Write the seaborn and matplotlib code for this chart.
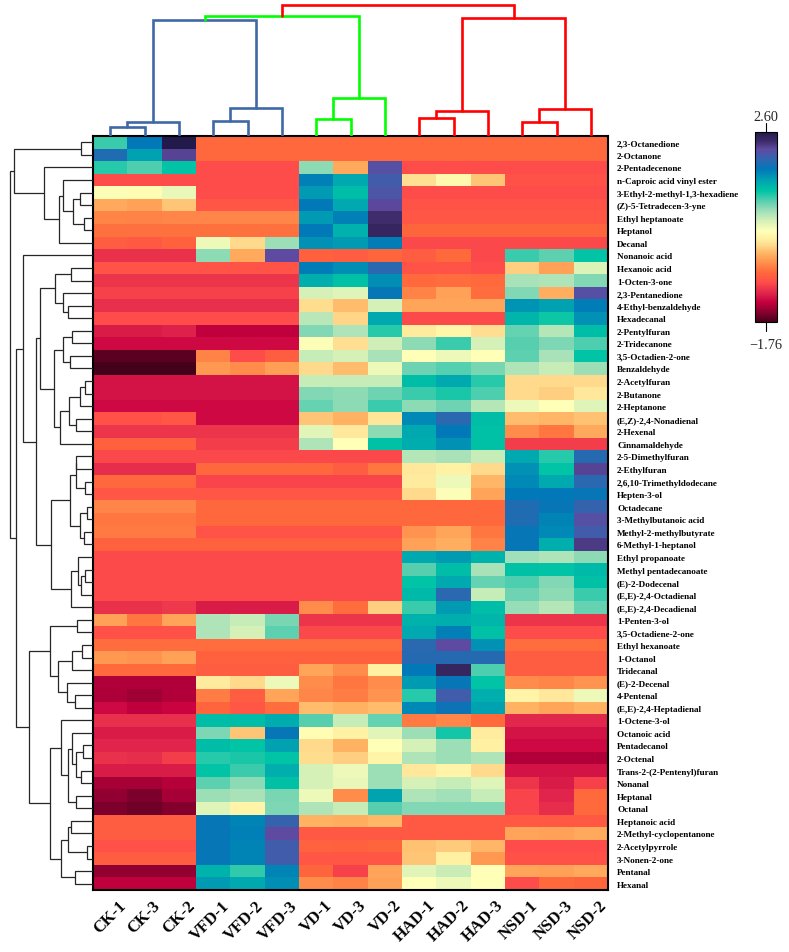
import numpy as np
import pandas as pd
import matplotlib
matplotlib.use('Agg')
import matplotlib.pyplot as plt
from matplotlib.colors import LinearSegmentedColormap
from matplotlib.transforms import ScaledTranslation
import seaborn as sns

cols = ['CK-1', 'CK-3', 'CK-2', 'VFD-1', 'VFD-2', 'VFD-3', 'VD-1', 'VD-3', 'VD-2',
        'HAD-1', 'HAD-2', 'HAD-3', 'NSD-1', 'NSD-3', 'NSD-2']

rows = ['2,3-Octanedione', '2-Octanone', '2-Pentadecenone', 'n-Caproic acid vinyl ester',
        '3-Ethyl-2-methyl-1,3-hexadiene', '(Z)-5-Tetradecen-3-yne', 'Ethyl heptanoate', 'Heptanol',
        'Decanal', 'Nonanoic acid', 'Hexanoic acid', '1-Octen-3-one', '2,3-Pentanedione',
        '4-Ethyl-benzaldehyde', 'Hexadecanal', '2-Pentylfuran', '2-Tridecanone', '3,5-Octadien-2-one',
        'Benzaldehyde', '2-Acetylfuran', '2-Butanone', '2-Heptanone', '(E,Z)-2,4-Nonadienal',
        '2-Hexenal', 'Cinnamaldehyde', '2-5-Dimethylfuran', '2-Ethylfuran', '2,6,10-Trimethyldodecane',
        'Hepten-3-ol', 'Octadecane', '3-Methylbutanoic acid', 'Methyl-2-methylbutyrate',
        '6-Methyl-1-heptanol', 'Ethyl propanoate', 'Methyl pentadecanoate', '(E)-2-Dodecenal',
        '(E,E)-2,4-Octadienal', '(E,E)-2,4-Decadienal', '1-Penten-3-ol', '3,5-Octadiene-2-one',
        'Ethyl hexanoate', '1-Octanol', 'Tridecanal', '(E)-2-Decenal', '4-Pentenal',
        '(E,E)-2,4-Heptadienal', '1-Octene-3-ol', 'Octanoic acid', 'Pentadecanol', '2-Octenal',
        'Trans-2-(2-Pentenyl)furan', 'Nonanal', 'Heptanal', 'Octanal', 'Heptanoic acid',
        '2-Methyl-cyclopentanone', '2-Acetylpyrrole', '3-Nonen-2-one', 'Pentanal', 'Hexanal']

values = [
    [1.1, 1.75, 2.6, -.63, -.63, -.63, -.63, -.63, -.63, -.63, -.63, -.63, -.63, -.63, -.63],
    [1.9, 1.5, 2.25, -.63, -.63, -.63, -.63, -.63, -.63, -.63, -.63, -.63, -.63, -.63, -.63],
    [1.15, 1.05, 1.25, -.85, -.85, -.85, .85, -.25, 2.15, -.85, -.85, -.85, -.85, -.85, -.85],
    [-.85, -.85, -.85, -.85, -.85, -.85, 1.7, 1.45, 2.05, .05, .25, -.1, -.82, -.82, -.82],
    [.35, .3, .45, -.85, -.85, -.85, 1.55, 1.3, 2.1, -.85, -.85, -.85, -.85, -.85, -.85],
    [-.25, -.3, -.1, -.78, -.78, -.78, 1.75, 1.45, 2.22, -.8, -.8, -.8, -.8, -.8, -.8],
    [-.46, -.48, -.45, -.45, -.45, -.45, 1.55, 1.7, 2.38, -.78, -.78, -.78, -.78, -.78, -.78],
    [-.58, -.58, -.58, -.58, -.58, -.58, 1.75, 1.38, 2.45, -.65, -.65, -.65, -.65, -.65, -.65],
    [-.72, -.75, -.68, .42, 0, .8, 1.6, 1.55, 1.72, -.88, -.88, -.88, -.88, -.88, -.88],
    [-1.02, -1.02, -1.02, .85, -.25, 2.2, -.68, -.72, -.65, -.72, -.62, -.88, 1.1, 1.0, 1.25],
    [-.8, -.8, -.8, -.8, -.8, -.8, 1.72, 1.62, 1.95, -.8, -.8, -.85, -.05, -.3, .52],
    [-1.0, -1.0, -1.0, -1.0, -1.0, -1.0, 1.4, 1.28, 1.62, -.62, -.6, -.62, .75, .72, .88],
    [-.92, -.92, -.92, -.92, -.92, -.92, .55, .5, 1.78, -.48, -.3, -.6, .88, -.22, 2.15],
    [-1.03, -1.03, -1.03, -1.03, -1.03, -1.03, .02, -.15, .55, -.27, -.27, -.27, 1.58, 1.5, 1.72],
    [-.85, -.85, -.85, -.85, -.85, -.85, .68, -.02, 1.45, -.87, -.87, -.87, 1.35, 1.22, 1.6],
    [-1.15, -1.15, -1.12, -1.33, -1.33, -1.33, .88, .72, 1.15, .12, .22, .03, .98, .7, 1.3],
    [-1.25, -1.25, -1.25, -1.25, -1.25, -1.25, .35, .05, .58, .85, 1.1, .55, 1.02, .9, 1.05],
    [-1.68, -1.68, -1.68, -.47, -.85, -.72, .62, .55, .75, .33, .42, .33, 1.0, .75, 1.25],
    [-1.76, -1.76, -1.76, -.35, -.42, -.32, 0, -.15, .42, .95, 1.03, .92, .72, .62, .8],
    [-1.2, -1.2, -1.2, -1.2, -1.2, -1.2, .62, .62, .62, 1.3, 1.45, 1.15, 0, 0, 0],
    [-1.2, -1.2, -1.2, -1.2, -1.2, -1.2, .88, .85, .95, 1.1, 1.18, 1.05, 0, -.05, .1],
    [-1.25, -1.25, -1.25, -1.25, -1.25, -1.25, .98, .85, 1.1, .85, .95, .7, .42, .33, .5],
    [-.82, -.82, -.78, -1.25, -1.25, -1.25, -.1, -.2, .08, 1.65, 1.95, 1.3, -.15, -.18, -.12],
    [-1.0, -1.0, -1.0, -1.0, -1.0, -1.0, .48, .1, .85, 1.45, 1.75, 1.28, -.42, -.55, -.25],
    [-.68, -.68, -.68, -.95, -.95, -.95, .72, .33, 1.28, 1.42, 1.6, 1.28, -.95, -.95, -.95],
    [-.88, -.88, -.88, -.88, -.88, -.88, -.88, -.88, -.88, .7, .75, .62, 1.45, 1.15, 1.92],
    [-1.05, -1.05, -1.05, -.63, -.63, -.63, -.63, -.72, -.55, .1, .18, 0, 1.6, 1.25, 2.25],
    [-.63, -.63, -.63, -.9, -.9, -.9, -.9, -.9, -.9, .12, .42, -.18, 1.65, 1.45, 1.95],
    [-.78, -.78, -.78, -.78, -.78, -.78, -.78, -.78, -.78, 0, .35, -.28, 1.75, 1.75, 1.78],
    [-.45, -.45, -.45, -.63, -.63, -.63, -.63, -.63, -.63, -.63, -.63, -.63, 1.9, 1.78, 2.0],
    [-.55, -.55, -.55, -.63, -.63, -.63, -.63, -.63, -.63, -.63, -.63, -.63, 1.9, 1.68, 2.15],
    [-.52, -.52, -.52, -.8, -.8, -.8, -.8, -.8, -.8, -.38, -.27, -.55, 1.78, 1.65, 2.05],
    [-.68, -.68, -.68, -.68, -.68, -.68, -.68, -.68, -.68, -.3, -.22, -.48, 1.78, 1.4, 2.3],
    [-.87, -.87, -.87, -.87, -.87, -.87, -.87, -.87, -.87, 1.45, 1.55, 1.38, .78, .72, .85],
    [-.87, -.87, -.87, -.87, -.87, -.87, -.87, -.87, -.87, 1.02, 1.3, .75, 1.28, 1.25, 1.32],
    [-.87, -.87, -.87, -.87, -.87, -.87, -.87, -.87, -.87, 1.25, 1.45, .98, 1.05, .88, 1.28],
    [-.87, -.87, -.87, -.87, -.87, -.87, -.87, -.87, -.87, 1.32, 1.95, .62, .95, .85, 1.1],
    [-1.02, -1.02, -.98, -1.15, -1.15, -1.15, -.42, -.6, -.05, 1.1, 1.55, 1.3, .82, .7, .98],
    [-.3, -.55, -.28, .72, .62, .92, -1.0, -1.0, -1.0, 1.38, 1.4, 1.35, -1.0, -1.0, -1.0],
    [-.82, -.82, -.82, .72, .55, 1.0, -.88, -.88, -.88, 1.45, 1.7, 1.28, -.85, -.85, -.85],
    [-.6, -.6, -.6, -.6, -.6, -.6, -.6, -.6, -.6, 1.95, 2.2, 1.6, -.6, -.6, -.6],
    [-.35, -.38, -.3, -.68, -.68, -.68, -.68, -.68, -.68, 1.92, 1.92, 1.92, -.72, -.72, -.72],
    [-.62, -.62, -.62, -.72, -.72, -.72, -.27, -.42, .15, 1.75, 2.45, 1.05, -.72, -.72, -.72],
    [-1.38, -1.38, -1.38, .12, 0, .42, -.42, -.55, -.42, 1.55, 1.78, 1.25, -.42, -.45, -.38],
    [-1.4, -1.45, -1.38, -.5, -.72, -.28, -.45, -.5, -.38, 1.15, 2.05, 1.4, .2, .1, .42],
    [-1.25, -1.33, -1.28, -.65, -.78, -.6, -.15, -.2, -.15, 1.65, 1.8, 1.5, -.2, -.27, -.2],
    [-1.03, -1.03, -1.03, 1.3, 1.3, 1.42, 1.02, .62, .98, -.52, -.45, -.62, -1.08, -1.08, -1.08],
    [-1.15, -1.15, -1.15, .9, -.1, 1.78, .3, .18, .48, .8, 1.2, .13, -1.2, -1.2, -1.2],
    [-1.1, -1.1, -1.1, 1.3, 1.25, 1.5, 0, -.2, .33, .55, .8, .15, -1.25, -1.25, -1.25],
    [-1.02, -1.05, -.95, 1.15, 1.18, 1.25, .02, -.05, .2, .72, .8, .72, -1.38, -1.38, -1.38],
    [-1.15, -1.15, -1.15, 1.25, 1.1, 1.4, .55, .42, .8, .1, .2, 0, -1.2, -1.2, -1.2],
    [-1.42, -1.42, -1.36, 1.0, .85, 1.28, .55, .45, .8, .55, .62, .5, -1.0, -1.15, -.92],
    [-1.5, -1.58, -1.42, .8, .75, .92, .42, -.42, 1.48, .72, .78, .62, -.9, -1.1, -.62],
    [-1.58, -1.62, -1.55, .5, .2, .9, .72, .62, 1.02, .88, .88, .88, -.9, -1.05, -.62],
    [-.72, -.72, -.72, 1.78, 1.68, 2.0, -.2, -.22, -.17, -.75, -.75, -.75, -.75, -.75, -.75],
    [-.72, -.72, -.72, 1.78, 1.7, 2.2, -.75, -.75, -.75, -.75, -.75, -.75, -.28, -.3, -.25],
    [-.82, -.82, -.82, 1.78, 1.68, 2.05, -.67, -.68, -.65, -.12, -.08, -.18, -.85, -.85, -.85],
    [-.72, -.72, -.72, 1.78, 1.68, 2.05, -.78, -.78, -.78, -.1, .15, -.35, -.82, -.82, -.82],
    [-1.5, -1.5, -1.5, 1.38, 1.12, 1.68, -.65, -.92, -.28, .48, .6, .33, -.27, -.3, -.25],
    [-1.33, -1.33, -1.33, 1.55, 1.45, 1.62, -.42, -.47, -.3, .33, .42, .33, -.85, -.62, -.65],
]

# merges like a linkage table: ids below n are leaves, n + k is merge number k
col_merges = [(0, 1, 8.7), (15, 2, 13.7), (3, 4, 14.7), (17, 5, 27.7), (16, 18, 116.3),
              (6, 7, 17), (20, 8, 38), (19, 21, 119.7), (9, 10, 18), (23, 11, 25),
              (12, 13, 14.3), (25, 14, 27), (24, 26, 117.7), (22, 27, 131.3)]
blue, green, red = '#3f69a6', '#00ff00', '#ff0000'
col_merge_colors = [blue, blue, blue, blue, blue, green, green, green,
                    red, red, red, red, red, red]

row_merges = [(0, 1, 12.3), (4, 5, 13), (6, 7, 9), (61, 62, 20), (3, 63, 29.7), (64, 8, 34.3),
              (2, 65, 48.7), (60, 66, 79), (10, 11, 21.7), (13, 14, 25), (12, 69, 30),
              (68, 70, 37.7), (15, 16, 20.7), (17, 18, 23.3), (72, 73, 30), (19, 20, 7.7),
              (75, 21, 13), (22, 23, 16.7), (76, 77, 24), (78, 24, 32.7), (74, 79, 39.3),
              (71, 80, 53), (25, 26, 17), (27, 28, 8), (82, 83, 17.5), (29, 30, 6.3),
              (31, 32, 9.3), (85, 86, 12.7), (84, 87, 23), (34, 35, 8), (89, 36, 11.7),
              (33, 90, 15), (91, 37, 21.7), (88, 92, 41.7), (81, 93, 57), (9, 94, 70),
              (38, 39, 15.7), (40, 41, 10.7), (97, 42, 21), (44, 45, 17.7), (43, 99, 26),
              (98, 100, 35), (96, 101, 43), (48, 49, 9.7), (50, 51, 12.3), (103, 104, 16.7),
              (47, 105, 20.7), (52, 53, 17.3), (106, 107, 25.3), (46, 108, 32.3), (54, 55, 22.3),
              (56, 57, 6), (110, 111, 25), (58, 59, 17.7), (112, 113, 31.7), (109, 114, 43),
              (102, 115, 63.7), (95, 116, 77), (67, 117, 83.3)]

vmin, vmax = -1.76, 2.60
cmap_vals = [-1.76, -1.55, -1.3, -1.1, -.85, -.63, -.42, -.2, 0, .15, .33, .55, .78, 1.0, 1.25, 1.5, 1.75, 1.95, 2.2, 2.4, 2.6]
cmap_cols = ['#45001a', '#85002e', '#c8003f', '#e0254c', '#ff4d4a', '#ff683c', '#ff8c4a', '#ffb262',
             '#ffd98c', '#fff0a2', '#ffffb8', '#d6f1b8', '#a2e0b8', '#5fd0b0', '#00c4a5', '#00a2b2',
             '#0078b8', '#2a68b0', '#5f4ba2', '#3c2a68', '#231a4c']

sns.set_style('white')
plt.rcParams['font.family'] = ['Liberation Serif', 'DejaVu Serif']

W, H = 789, 953
L, R, T, B = 93, 608, 137, 891


def px_axes(x0, y0, x1, y1):
    return fig.add_axes([x0 / W, 1 - y1 / H, (x1 - x0) / W, (y1 - y0) / H])


def draw_tree(ax, merges, n, colors=None, lw=1.0, vertical=False):
    pos = {i: i + 0.5 for i in range(n)}
    hgt = {i: 0.0 for i in range(n)}
    for k, (a, b, h) in enumerate(merges):
        xs = [pos[a], pos[a], pos[b], pos[b]]
        ys = [hgt[a], h, h, hgt[b]]
        c = colors[k] if colors else '#262626'
        if vertical:
            ax.plot(xs, ys, color=c, lw=lw, solid_joinstyle='miter')
        else:
            ax.plot(ys, xs, color=c, lw=lw, solid_joinstyle='miter')
        pos[n + k] = (pos[a] + pos[b]) / 2
        hgt[n + k] = h


fig = plt.figure(figsize=(W / 100, H / 100), dpi=100)

df = pd.DataFrame(values, index=rows, columns=cols)
cmap = LinearSegmentedColormap.from_list(
    'hm', [((v - vmin) / (vmax - vmin), c) for v, c in zip(cmap_vals, cmap_cols)], N=512)

ax = px_axes(L, T, R, B)
cax = px_axes(755, 133, 777, 323)
sns.heatmap(df, ax=ax, cmap=cmap, vmin=vmin, vmax=vmax, cbar_ax=cax, xticklabels=True, yticklabels=True)

for s in ax.spines.values():
    s.set_visible(True)
    s.set_linewidth(1.5)
    s.set_color('black')
ax.yaxis.tick_right()
ax.tick_params(axis='y', length=0, pad=6.5, labelrotation=0)
ax.tick_params(axis='x', length=0, pad=5)
for t in ax.get_yticklabels():
    t.set_fontsize(6.6)
    t.set_fontweight('bold')
    t.set_color('black')
# x labels lean up to the right and end a little past the column centre
shift = ScaledTranslation(8 / 100, 0, fig.dpi_scale_trans)
for t in ax.get_xticklabels():
    t.set_fontsize(12)
    t.set_fontweight('bold')
    t.set_color('black')
    t.set_rotation(45)
    t.set_ha('right')
    t.set_va('top')
    t.set_rotation_mode('anchor')
    t.set_transform(t.get_transform() + shift)

# colour bar with its two end labels
cbar = ax.collections[0].colorbar
cbar.set_ticks([])
cbar.outline.set_visible(True)
cbar.outline.set_edgecolor('black')
cbar.outline.set_linewidth(0.8)
cax.plot([0.5, 0.5], [1.0, 1.047], transform=cax.transAxes, color='black', lw=0.8, clip_on=False)
cax.plot([0.5, 0.5], [0, -0.047], transform=cax.transAxes, color='black', lw=0.8, clip_on=False)
cax.text(0.5, 1.084, '2.60', transform=cax.transAxes, ha='center', va='center', fontsize=10.3)
cax.text(0.5, -0.116, '\u22121.76', transform=cax.transAxes, ha='center', va='center', fontsize=10.3)

# dendrograms, axis units are pixels of distance from the heat map
top = px_axes(L, 0, R, T)
draw_tree(top, col_merges, len(cols), col_merge_colors, lw=1.9, vertical=True)
top.set_xlim(ax.get_xlim())
top.set_ylim(0, T)
top.axis('off')

left = px_axes(0, T, L, B)
draw_tree(left, row_merges, len(rows), lw=0.9)
left.set_ylim(ax.get_ylim())
left.set_xlim(L, 0)
left.axis('off')

fig.savefig('out.png', dpi=100)
